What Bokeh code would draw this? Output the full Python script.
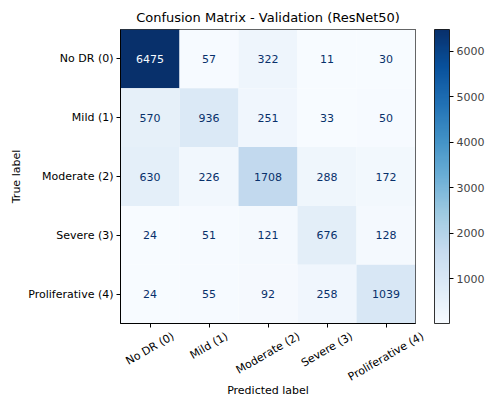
import math
from bokeh.plotting import figure
from bokeh.layouts import column
from bokeh.models import ColumnDataSource, LinearColorMapper, ColorBar, FixedTicker, Range1d
from bokeh.palettes import Blues256
from bokeh.embed import file_html
from bokeh.resources import INLINE
from bokeh.core.properties import value

labels = ["No DR (0)", "Mild (1)", "Moderate (2)", "Severe (3)", "Proliferative (4)"]
row_no_dr = [6475, 57, 322, 11, 30]
row_mild = [570, 936, 251, 33, 50]
row_moderate = [630, 226, 1708, 288, 172]
row_severe = [24, 51, 121, 676, 128]
row_prolif = [24, 55, 92, 258, 1039]
matrix = [row_no_dr, row_mild, row_moderate, row_severe, row_prolif]
cbar_ticks = [1000, 2000, 3000, 4000, 5000, 6000]

flat = [v for r in matrix for v in r]
vmin, vmax = min(flat), max(flat)
thresh = (vmin + vmax) / 2

xs, ys, vals, txt, tcol = [], [], [], [], []
for i, r in enumerate(matrix):
    for j, v in enumerate(r):
        xs.append(labels[j]); ys.append(labels[i]); vals.append(v)
        txt.append(str(v)); tcol.append("#f7fbff" if v > thresh else "#08306b")
src = ColumnDataSource(dict(x=xs, y=ys, v=vals, t=txt, c=tcol))

FONT = "DejaVu Sans"
FS = 11
W, H = 485, 399
LEFT, TOP, BOT, RIGHT = 120, 29, 5, 70
FW, FH = 295, 294
mapper = LinearColorMapper(palette=list(Blues256[::-1]), low=vmin, high=vmax)

p = figure(x_range=labels, y_range=list(reversed(labels)),
           frame_width=FW, frame_height=FH,
           min_border_left=LEFT, min_border_top=TOP, min_border_bottom=BOT, min_border_right=RIGHT,
           output_backend="svg", toolbar_location=None,
           title="Confusion Matrix - Validation (ResNet50)")
p.rect(x="x", y="y", width=1, height=1, source=src,
       fill_color={"field": "v", "transform": mapper}, line_color=None)
p.text(x="x", y="y", text="t", source=src, text_color="c",
       text_align="center", text_baseline="middle", text_font_size=f"{FS}px",
       text_font=value(FONT))

p.title.align = "center"
p.title.text_font = FONT
p.title.text_font_style = "normal"
p.title.text_font_size = "13px"
p.title.text_color = "black"

p.grid.visible = False
p.outline_line_color = "black"
p.outline_line_alpha = 0.8
for ax in (p.xaxis[0], p.yaxis[0]):
    ax.major_label_text_font = FONT
    ax.major_label_text_font_size = f"{FS}px"
    ax.major_label_text_color = "black"
    ax.axis_label_text_font = FONT
    ax.axis_label_text_font_size = f"{FS}px"
    ax.axis_label_text_font_style = "normal"
    ax.axis_label_text_color = "black"
    ax.major_tick_out = 4
    ax.major_tick_in = 0
    ax.major_tick_line_color = "black"
    ax.axis_line_color = "black"
    ax.minor_tick_line_color = None
p.yaxis.axis_label = "True label"
p.yaxis.major_label_standoff = 3
p.yaxis.axis_label_standoff = 2
p.xaxis.major_label_text_font_size = "0px"
p.xaxis.major_label_text_alpha = 0
p.xaxis.major_label_standoff = 0

cb = ColorBar(color_mapper=mapper, width=15, height=FH, padding=0, margin=0,
              location=(FW + 19, 0),
              ticker=FixedTicker(ticks=cbar_ticks),
              major_label_text_font=FONT, major_label_text_font_size=f"{FS}px",
              major_tick_out=4, major_tick_in=0, major_tick_line_color="black",
              bar_line_color="black", bar_line_alpha=0.8,
              background_fill_alpha=0, border_line_color=None,
              label_standoff=3)
p.add_layout(cb, "center")

# strip below the heatmap holding the rotated x tick labels and the x axis title;
# its frame starts at the heatmap frame's left edge and runs to the page edge
H2 = H - (TOP + FH + BOT)
unit = FW / len(labels)
FW2 = W - LEFT
p2 = figure(x_range=Range1d(0, FW2 / unit), y_range=Range1d(-H2, 0),
            frame_width=FW2, frame_height=H2,
            min_border_left=LEFT, min_border_right=0, min_border_top=0, min_border_bottom=0,
            x_axis_type=None, y_axis_type=None, output_backend="svg", toolbar_location=None)
p2.outline_line_color = None
p2.grid.visible = False

CW = {" ": .318, "(": .390, ")": .390, "N": .748, "D": .770, "R": .695, "M": .863,
      "P": .603, "S": .635, "o": .612, "i": .278, "l": .278, "d": .635, "e": .615,
      "r": .411, "a": .613, "t": .392, "v": .592, "f": .352}
ang = math.radians(30)
lx, ly = [], []
for j, lab in enumerate(labels):
    L = sum(CW.get(ch, .636) for ch in lab) * FS
    box_h = L * math.sin(ang) + FS * math.cos(ang)
    d = 7 + box_h / 2          # pixels below frame bottom
    lx.append(j + 0.5)
    ly.append(-(d - BOT))
p2.text(x=lx, y=ly, text=labels, angle=30, angle_units="deg",
        text_align="center", text_baseline="middle",
        text_font=value(FONT), text_font_size=f"{FS}px", text_color="black")
p2.text(x=[len(labels) / 2], y=[-(67 - BOT)], text=["Predicted label"],
        text_align="center", text_baseline="middle",
        text_font=value(FONT), text_font_size=f"{FS}px", text_color="black")

layout = column(p, p2, spacing=0)
open("out.html", "w").write(file_html(layout, INLINE))
